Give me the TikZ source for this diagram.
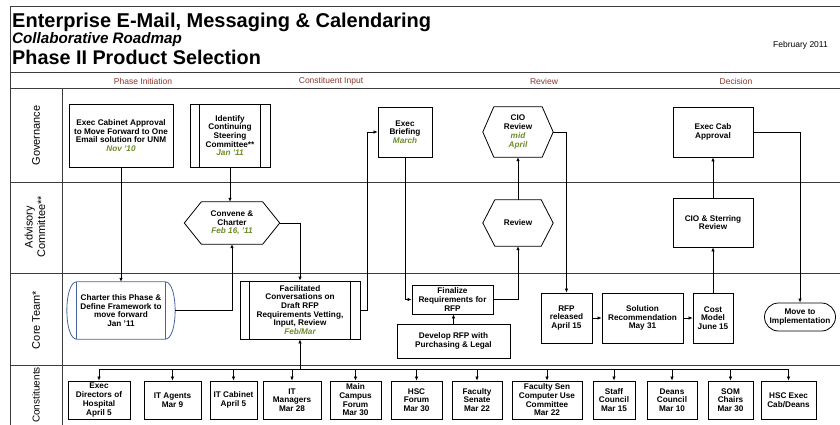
\documentclass[tikz,border=0pt]{standalone}
\usepackage{fontspec}
\setmainfont{Liberation Sans}
\usetikzlibrary{arrows.meta,calc}
\definecolor{dategreen}{RGB}{110,140,40}
\definecolor{phasered}{RGB}{140,55,45}
\definecolor{charterblue}{RGB}{70,100,160}
\definecolor{framegray}{RGB}{60,60,60}
\newcommand\myhexagon[2]{\draw[line width=0.8pt] (#1.west) -- ($(#1.north west)+(#2,0)$) -- ($(#1.north east)+(-#2,0)$) -- (#1.east) -- ($(#1.south east)+(-#2,0)$) -- ($(#1.south west)+(#2,0)$) -- cycle;}
\newcommand\mypredef[2]{\draw[line width=0.8pt] ($(#1.north west)+(#2,0)$) -- ($(#1.south west)+(#2,0)$) ($(#1.north east)+(-#2,0)$) -- ($(#1.south east)+(-#2,0)$);}
\newcommand\dt[1]{\textcolor{dategreen}{\itshape #1}}
\begin{document}
\begin{tikzpicture}[x=1pt,y=-1pt,
  box/.style={draw, line width=0.8pt, inner sep=0pt, font=\fontsize{8.2}{8.7}\selectfont\bfseries, align=center},
  plain/.style={draw=none, inner sep=0pt, font=\fontsize{8.2}{8.7}\selectfont\bfseries, align=center},
  arr/.style={-{Latex[length=4pt,width=3.5pt]}, line width=0.7pt},
  ln/.style={line width=0.7pt},
  frame/.style={draw=framegray, line width=1pt},
  lanelabel/.style={rotate=90, font=\fontsize{11}{12.5}\selectfont, align=center},
  phase/.style={text=phasered, font=\fontsize{8.5}{9}\selectfont}]
\useasboundingbox (0,0) rectangle (840,425);
\fill[white] (0,0) rectangle (840,425);
% frame
\draw[frame] (10,425) -- (10,7) -- (840,7);
\draw[frame] (10,73) -- (840,73);
\draw[frame] (10,89) -- (840,89);
\draw[frame] (62,89) -- (62,425);
\draw[frame] (10,182) -- (840,182);
\draw[frame] (10,273) -- (840,273);
\draw[frame] (10,365) -- (840,365);
% titles
\node[anchor=base west, inner sep=0pt, font=\fontsize{20}{22}\selectfont\bfseries] (title) at (12,28) {Enterprise E-Mail, Messaging \& Calendaring};
\node[anchor=base west, inner sep=0pt, font=\fontsize{15.2}{17}\selectfont\bfseries\itshape] (sub) at (12,44) {Collaborative Roadmap};
\node[anchor=base west, inner sep=0pt, font=\fontsize{19.8}{22}\selectfont\bfseries] (phase2) at (12,65) {Phase II Product Selection};
\node[anchor=base east, inner sep=0pt, font=\fontsize{8.5}{9}\selectfont] (date) at (828,48) {February 2011};
% phases
\node[phase] (ph1) at (143,81) {Phase Initiation};
\node[phase] (ph2) at (331,81) {Constituent Input};
\node[phase] (ph3) at (544,81) {Review};
\node[phase] (ph4) at (736,81) {Decision};
% lane labels
\node[lanelabel] (lg) at (36,135.5) {Governance};
\node[lanelabel] (la) at (35,227) {Advisory\\Committee**};
\node[lanelabel] (lc) at (36,320) {Core Team*};
\node[lanelabel, font=\fontsize{10}{12}\selectfont] (lk) at (36,395) {Constituents};
% governance
\node[box, minimum width=104, minimum height=63] (ecab) at (121,135.5) {Exec Cabinet Approval\\to Move Forward to One\\Email solution for UNM\\\dt{Nov '10}};
\node[box, minimum width=80, minimum height=63] (ident) at (230,135.5) {Identify\\Continuing\\Steering\\Committee**\\\dt{Jan '11}};
\mypredef{ident}{10}
\node[box, minimum width=54, minimum height=50] (ebrief) at (405,132) {Exec\\Briefing\\\dt{March}};
\node[plain, minimum width=70, minimum height=50] (cior) at (518,132) {CIO\\Review\\\dt{mid}\\\dt{April}};
\myhexagon{cior}{11}
\node[box, minimum width=80, minimum height=50] (ecapp) at (713,132) {Exec Cab\\Approval};
% advisory
\node[plain, minimum width=95, minimum height=42] (conv) at (232,223) {Convene \&\\Charter\\\dt{Feb 16, '11}};
\myhexagon{conv}{17}
\node[plain, minimum width=70, minimum height=46] (rev) at (518,223) {Review};
\myhexagon{rev}{12}
\node[box, minimum width=80, minimum height=49] (cios) at (713,222.5) {CIO \& Sterring\\Review};
% core team
\node[plain, minimum width=108, minimum height=57] (chart) at (121,310.5) {Charter this Phase \&\\Define Framework to\\move forward\\Jan '11};
\draw[charterblue, line width=0.8pt] ($(chart.north west)+(10,0)$) -- ($(chart.north east)+(-10,0)$) .. controls ($(chart.north east)+(3.3,0)$) and ($(chart.south east)+(3.3,0)$) .. ($(chart.south east)+(-10,0)$) -- ($(chart.south west)+(10,0)$) .. controls ($(chart.south west)+(-3.3,0)$) and ($(chart.north west)+(-3.3,0)$) .. cycle;
\draw[charterblue, line width=0.8pt] ($(chart.north west)+(10,0)$) -- ($(chart.south west)+(10,0)$) ($(chart.north east)+(-10,0)$) -- ($(chart.south east)+(-10,0)$);
\node[box, minimum width=120, minimum height=58] (facil) at (300,310) {Facilitated\\Conversations on\\Draft RFP\\Requirements Vetting,\\Input, Review\\\dt{Feb/Mar}};
\mypredef{facil}{10}
\node[box, minimum width=81, minimum height=29] (final) at (452.5,299.5) {Finalize\\Requirements for\\RFP};
\node[box, minimum width=113, minimum height=34] (dev) at (453.5,341) {Develop RFP with\\Purchasing \& Legal};
\node[box, minimum width=51, minimum height=50] (rfp) at (566.5,318) {RFP\\released\\April 15};
\node[box, minimum width=81, minimum height=50] (sol) at (642.5,318) {Solution\\Recommendation\\May 31};
\node[box, minimum width=40, minimum height=50] (cost) at (713,318) {Cost\\Model\\June 15};
\node[box, rounded corners=14pt, minimum width=71, minimum height=28] (move) at (800,317) {Move to\\Implementation};
% constituents
\foreach \n/\cx/\w/\t in {c1/99/62/{Exec\\Directors of\\Hospital\\April 5},
  c2/172.5/57/{IT Agents\\Mar 9},
  c3/233.5/47/{IT Cabinet\\April 5},
  c4/292/58/{IT\\Managers\\Mar 28},
  c5/355.5/51/{Main\\Campus\\Forum\\Mar 30},
  c6/416.5/51/{HSC\\Forum\\Mar 30},
  c7/477/50/{Faculty\\Senate\\Mar 22},
  c8/547/70/{Faculty Sen\\Computer Use\\Committee\\Mar 22},
  c9/614/42/{Staff\\Council\\Mar 15},
  c10/672/50/{Deans\\Council\\Mar 10},
  c11/730.5/45/{SOM\\Chairs\\Mar 30},
  c12/788.5/55/{HSC Exec\\Cab/Deans}}
  {\node[box, minimum width=\w, minimum height=38] (\n) at (\cx,400) {\t};}
\coordinate (busL) at (99,369);
\coordinate (busR) at (788.5,369);
\draw[ln] (busL) -- (busR);
\foreach \n in {c1,c2,c3,c4,c5,c6,c7,c8,c9,c10,c11,c12}
  {\draw[arr] (\n.north |- busL) -- (\n.north);}
\draw[arr] (facil.south |- busL) -- (facil.south);
% connectors
\draw[arr] (ecab.south) -- (chart.north);
\draw[arr] (ident.south) -- (ident.south |- conv.north);
\draw[arr] (chart.east) -| (conv.south);
\draw[arr] (conv.east) -| (facil.north);
\draw[arr] (facil.east) -- ++(7,0) |- (ebrief.west);
\draw[arr] (ebrief.south) |- (final.west);
\draw[arr] (dev.north) -- (dev.north |- final.south);
\draw[arr] (final.east) -| (rev.south);
\draw[arr] (rev.north) -- (cior.south);
\draw[arr] (cior.east) -| (rfp.north);
\draw[arr] (rfp.east) -- (sol.west);
\draw[arr] (sol.east) -- (cost.west);
\draw[arr] (cost.north) -- (cios.south);
\draw[arr] (cios.north) -- (ecapp.south);
\draw[arr] (ecapp.east) -| (move.north);
\end{tikzpicture}
\end{document}
